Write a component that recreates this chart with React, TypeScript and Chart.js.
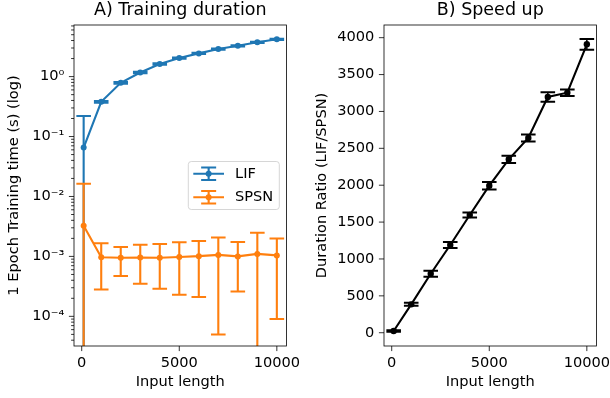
import React, { useEffect, useRef } from "react";
import { Chart, registerables } from "chart.js";

Chart.register(...registerables);

// ---------------- data ----------------
const inputLengths = [100, 1000, 2000, 3000, 4000, 5000, 6000, 7000, 8000, 9000, 10000];

const lifMean = [0.0655, 0.379, 0.788, 1.17, 1.62, 2.04, 2.44, 2.88, 3.27, 3.73, 4.19];
const lifStd = [0.155, 0.012, 0.025, 0.035, 0.045, 0.05, 0.06, 0.07, 0.08, 0.09, 0.1];

const spsnMean = [0.00325, 0.00097, 0.00095, 0.00096, 0.00095, 0.00098, 0.00101, 0.00106, 0.001, 0.0011, 0.00104];
const spsnStd = [0.0131, 0.00069, 0.00048, 0.00061, 0.00066, 0.00075, 0.0008, 0.00101, 0.00074, 0.00138, 0.00095];

const ratioMean = [23, 385, 800, 1189, 1596, 1993, 2351, 2640, 3196, 3254, 3910];
const ratioStd = [10, 20, 40, 40, 34, 50, 50, 47, 63, 43, 72];

const xTicks = [0, 5000, 10000];
const logMajorTicks = [1e-4, 1e-3, 1e-2, 1e-1, 1];
const ratioTicks = [0, 500, 1000, 1500, 2000, 2500, 3000, 3500, 4000];

const seriesLabels = ["LIF", "SPSN"];
const titles = ["A) Training duration", "B) Speed up"];
const xTitle = "Input length";
const yTitles = ["1 Epoch Training time (s) (log)", "Duration Ratio (LIF/SPSN)"];

// ---------------- styling ----------------
const FONT = "'DejaVu Sans', 'Liberation Sans', sans-serif";
const TICK_SIZE = 14.6;
const TITLE_SIZE = 17.5;
const BLUE = "#1f77b4";
const ORANGE = "#ff7f0e";
const BLACK = "#000000";
const MAJOR_LEN = 5.1;
const MINOR_LEN = 2.9;

Chart.defaults.font.family = FONT;
Chart.defaults.color = "#000";

const SUP: Record<string, string> = {
  "0": "⁰", "1": "¹", "2": "²", "3": "³", "4": "⁴",
  "5": "⁵", "6": "⁶", "7": "⁷", "8": "⁸", "9": "⁹", "-": "⁻",
};
const fmtPow10 = (v: number) => {
  const e = Math.round(Math.log10(v));
  return "10" + String(e).split("").map((c) => SUP[c] || c).join("");
};

const logTickValues = (min: number, max: number) => {
  const vals: number[] = [];
  logMajorTicks.concat([1e-5, 10]).forEach((d) => {
    for (let k = 1; k <= 9; k++) {
      const v = k === 1 ? d : k * d;
      if (v >= min && v <= max && !vals.includes(v)) vals.push(v);
    }
  });
  return vals.sort((a, b) => a - b);
};

// ---------------- plugins ----------------
const errorBarPlugin = {
  id: "errorBars",
  beforeDatasetDraw(chart: any, args: any) {
    const ds: any = chart.data.datasets[args.index];
    if (!ds.errors) return;
    const meta = args.meta;
    const xs = chart.scales[meta.xAxisID];
    const ys = chart.scales[meta.yAxisID];
    const ca = chart.chartArea;
    const ctx = chart.ctx;
    ctx.save();
    ctx.beginPath();
    ctx.rect(ca.left, ca.top, ca.right - ca.left, ca.bottom - ca.top);
    ctx.clip();
    ctx.strokeStyle = ds.borderColor;
    ds.data.forEach((p: any, i: number) => {
      const sd = ds.errors[i];
      const x = xs.getPixelForValue(p.x);
      const hi = p.y + sd;
      const lo = p.y - sd;
      const yHi = ys.getPixelForValue(hi);
      const clipped = ys.type === "logarithmic" && lo <= 0;
      const yLo = clipped ? ca.bottom + 20 : ys.getPixelForValue(lo);
      ctx.lineWidth = ds.errorWidth;
      ctx.beginPath();
      ctx.moveTo(x, yLo);
      ctx.lineTo(x, yHi);
      ctx.stroke();
      ctx.lineWidth = ds.capWidth;
      ctx.beginPath();
      ctx.moveTo(x - ds.capHalf, yHi);
      ctx.lineTo(x + ds.capHalf, yHi);
      if (!clipped) {
        ctx.moveTo(x - ds.capHalf, yLo);
        ctx.lineTo(x + ds.capHalf, yLo);
      }
      ctx.stroke();
    });
    ctx.restore();
  },
};

const framePlugin = {
  id: "frameTicks",
  afterDatasetsDraw(chart: any) {
    const ctx = chart.ctx;
    const ca = chart.chartArea;
    const xs = chart.scales.x;
    const ys = chart.scales.y;
    ctx.save();
    ctx.strokeStyle = "#000";
    ctx.lineWidth = 0.8;
    ctx.beginPath();
    xs.ticks.forEach((t: any) => {
      const px = xs.getPixelForValue(t.value);
      if (px < ca.left - 0.5 || px > ca.right + 0.5) return;
      ctx.moveTo(px, ca.bottom);
      ctx.lineTo(px, ca.bottom + MAJOR_LEN);
    });
    ys.ticks.forEach((t: any) => {
      const py = ys.getPixelForValue(t.value);
      if (py < ca.top - 0.5 || py > ca.bottom + 0.5) return;
      const major = ys.type !== "logarithmic" || logMajorTicks.includes(t.value);
      ctx.moveTo(ca.left, py);
      ctx.lineTo(ca.left - (major ? MAJOR_LEN : MINOR_LEN), py);
    });
    ctx.stroke();
    ctx.strokeRect(ca.left, ca.top, ca.right - ca.left, ca.bottom - ca.top);
    ctx.restore();
  },
};

const legendPlugin = {
  id: "boxLegend",
  afterDraw(chart: any, _args: any, opts: any) {
    if (!opts || !opts.show) return;
    const ctx = chart.ctx;
    const ca = chart.chartArea;
    const w = 91;
    const h = 48;
    const right = ca.right - 7.2;
    const left = right - w;
    const top = (ca.top + ca.bottom) / 2 - h / 2;
    const r = 3;
    ctx.save();
    ctx.beginPath();
    ctx.moveTo(left + r, top);
    ctx.lineTo(left + w - r, top);
    ctx.quadraticCurveTo(left + w, top, left + w, top + r);
    ctx.lineTo(left + w, top + h - r);
    ctx.quadraticCurveTo(left + w, top + h, left + w - r, top + h);
    ctx.lineTo(left + r, top + h);
    ctx.quadraticCurveTo(left, top + h, left, top + h - r);
    ctx.lineTo(left, top + r);
    ctx.quadraticCurveTo(left, top, left + r, top);
    ctx.closePath();
    ctx.fillStyle = "rgba(255,255,255,0.8)";
    ctx.fill();
    ctx.strokeStyle = "rgba(204,204,204,0.8)";
    ctx.lineWidth = 1;
    ctx.stroke();

    chart.data.datasets.forEach((ds: any, i: number) => {
      const cy = top + 12.3 + i * 23.4;
      const x0 = left + 5;
      const x1 = left + 35.7;
      const cx = (x0 + x1) / 2;
      ctx.strokeStyle = ds.borderColor;
      ctx.fillStyle = ds.borderColor;
      ctx.lineWidth = ds.borderWidth;
      ctx.beginPath();
      ctx.moveTo(x0, cy);
      ctx.lineTo(x1, cy);
      ctx.moveTo(cx, cy - 6.2);
      ctx.lineTo(cx, cy + 6.2);
      ctx.stroke();
      ctx.lineWidth = ds.capWidth;
      ctx.beginPath();
      ctx.moveTo(cx - 7.5, cy - 6.2);
      ctx.lineTo(cx + 7.5, cy - 6.2);
      ctx.moveTo(cx - 7.5, cy + 6.2);
      ctx.lineTo(cx + 7.5, cy + 6.2);
      ctx.stroke();
      ctx.beginPath();
      ctx.arc(cx, cy, 3, 0, Math.PI * 2);
      ctx.fill();
      ctx.fillStyle = "#000";
      ctx.font = `${TICK_SIZE}px ${FONT}`;
      ctx.textBaseline = "middle";
      ctx.textAlign = "left";
      ctx.fillText(ds.label, left + 46.7, cy);
    });
    ctx.restore();
  },
};

// ---------------- config builders ----------------
const tickFont = { family: FONT, size: TICK_SIZE };

const xScale = (canvasRightPad: number) => ({
  type: "linear",
  min: -395,
  max: 10495,
  afterBuildTicks: (s: any) => {
    s.ticks = xTicks.map((v) => ({ value: v }));
  },
  afterFit: (s: any) => {
    s.height = 52;
    s.paddingLeft = 0;
    s.paddingRight = 0;
  },
  ticks: {
    autoSkip: false,
    maxRotation: 0,
    minRotation: 0,
    padding: 3.4,
    color: "#000",
    font: tickFont,
    callback: (v: any) => String(v),
  },
  grid: { display: true, drawOnChartArea: false, tickLength: MAJOR_LEN, tickColor: "rgba(0,0,0,0)" },
  border: { display: false },
  title: {
    display: true,
    text: xTitle,
    color: "#000",
    font: tickFont,
    padding: { top: 0, bottom: 6.6 },
  },
});

const makeLeftConfig = (): any => {
  const yMin = 3.2e-5;
  const yMax = 7.26;
  const yTickVals = logTickValues(yMin, yMax);
  return {
    type: "line",
    data: {
      datasets: [
        {
          label: seriesLabels[0],
          data: inputLengths.map((x, i) => ({ x, y: lifMean[i] })),
          errors: lifStd,
          borderColor: BLUE,
          backgroundColor: BLUE,
          borderWidth: 2.1,
          pointRadius: 3,
          pointBorderWidth: 0,
          pointHoverRadius: 3,
          tension: 0,
          fill: false,
          order: 1,
          errorWidth: 2.1,
          capWidth: 2,
          capHalf: 7.3,
        },
        {
          label: seriesLabels[1],
          data: inputLengths.map((x, i) => ({ x, y: spsnMean[i] })),
          errors: spsnStd,
          borderColor: ORANGE,
          backgroundColor: ORANGE,
          borderWidth: 2.1,
          pointRadius: 3,
          pointBorderWidth: 0,
          pointHoverRadius: 3,
          tension: 0,
          fill: false,
          order: 0,
          errorWidth: 2.1,
          capWidth: 2,
          capHalf: 7.3,
        },
      ],
    },
    options: {
      animation: false,
      responsive: false,
      devicePixelRatio: 1,
      events: [],
      layout: { padding: { left: 0, right: 13.5, top: 0, bottom: 0 } },
      scales: {
        x: xScale(13.5),
        y: {
          type: "logarithmic",
          min: yMin,
          max: yMax,
          afterBuildTicks: (s: any) => {
            s.ticks = yTickVals.map((v) => ({ value: v }));
          },
          afterFit: (s: any) => {
            s.width = 74;
            s.paddingTop = 0;
            s.paddingBottom = 0;
          },
          ticks: {
            autoSkip: false,
            padding: 4.5,
            color: "#000",
            font: tickFont,
            callback: (v: any) => (logMajorTicks.includes(v) ? fmtPow10(v) : ""),
          },
          grid: { display: true, drawOnChartArea: false, tickLength: MAJOR_LEN, tickColor: "rgba(0,0,0,0)" },
          border: { display: false },
          title: {
            display: true,
            text: yTitles[0],
            color: "#000",
            font: tickFont,
            padding: { top: 5.7, bottom: 0 },
          },
        },
      },
      plugins: {
        legend: { display: false },
        tooltip: { enabled: false },
        title: {
          display: true,
          text: titles[0],
          fullSize: false,
          color: "#000",
          font: { family: FONT, size: TITLE_SIZE, weight: "normal" },
          padding: { top: 0, bottom: 4 },
        },
        boxLegend: { show: true },
      },
    },
    plugins: [errorBarPlugin, framePlugin, legendPlugin],
  };
};

const makeRightConfig = (): any => ({
  type: "line",
  data: {
    datasets: [
      {
        label: "Ratio",
        data: inputLengths.map((x, i) => ({ x, y: ratioMean[i] })),
        errors: ratioStd,
        borderColor: BLACK,
        backgroundColor: BLACK,
        borderWidth: 2.1,
        pointRadius: 3.2,
        pointBorderWidth: 0,
        pointHoverRadius: 3.2,
        tension: 0,
        fill: false,
        errorWidth: 1.5,
        capWidth: 2,
        capHalf: 7.3,
      },
    ],
  },
  options: {
    animation: false,
    responsive: false,
    devicePixelRatio: 1,
    events: [],
    layout: { padding: { left: 0, right: 13.5, top: 0, bottom: 0 } },
    scales: {
      x: xScale(13.5),
      y: {
        type: "linear",
        min: -180,
        max: 4172,
        afterBuildTicks: (s: any) => {
          s.ticks = ratioTicks.map((v) => ({ value: v }));
        },
        afterFit: (s: any) => {
          s.width = 84;
          s.paddingTop = 0;
          s.paddingBottom = 0;
        },
        ticks: {
          autoSkip: false,
          padding: 4.5,
          color: "#000",
          font: tickFont,
          callback: (v: any) => String(v),
        },
        grid: { display: true, drawOnChartArea: false, tickLength: MAJOR_LEN, tickColor: "rgba(0,0,0,0)" },
        border: { display: false },
        title: {
          display: true,
          text: yTitles[1],
          color: "#000",
          font: tickFont,
          padding: { top: 13.5, bottom: 0 },
        },
      },
    },
    plugins: {
      legend: { display: false },
      tooltip: { enabled: false },
      title: {
        display: true,
        text: titles[1],
        fullSize: false,
        color: "#000",
        font: { family: FONT, size: TITLE_SIZE, weight: "normal" },
        padding: { top: 0, bottom: 4 },
      },
    },
  },
  plugins: [errorBarPlugin, framePlugin],
});

// ---------------- components ----------------
function ChartCanvas({ left, width, makeConfig }: { left: number; width: number; makeConfig: () => any }) {
  const ref = useRef<HTMLCanvasElement | null>(null);
  useEffect(() => {
    if (!ref.current) return;
    const chart = new Chart(ref.current, makeConfig());
    return () => chart.destroy();
  }, [makeConfig]);
  return (
    <canvas
      ref={ref}
      width={width}
      height={398}
      style={{ position: "absolute", left, top: 0, width, height: 398 }}
    />
  );
}

export default function App() {
  return (
    <div
      style={{
        position: "fixed",
        left: 0,
        top: 0,
        width: 610,
        height: 398,
        overflow: "hidden",
        background: "#ffffff",
      }}
    >
      <ChartCanvas left={0} width={300} makeConfig={makeLeftConfig} />
      <ChartCanvas left={300} width={310} makeConfig={makeRightConfig} />
    </div>
  );
}
